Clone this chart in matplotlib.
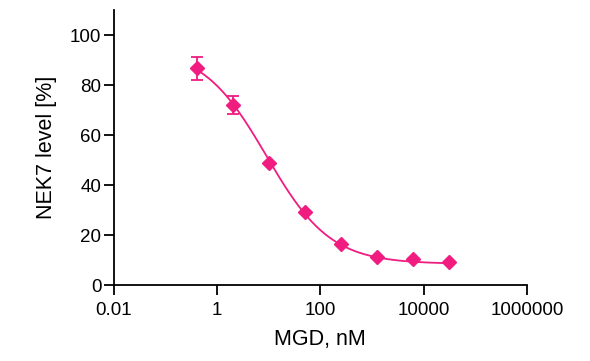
import numpy as np
import matplotlib
matplotlib.use("Agg")
import matplotlib.pyplot as plt
from matplotlib.ticker import FixedLocator, NullLocator, FixedFormatter

plt.rcParams['font.family'] = ['Liberation Sans', 'DejaVu Sans']

# measured points
conc = [0.4, 2, 10, 50, 250, 1250, 6250, 31250]
level = [86.7, 72.0, 48.9, 29.2, 16.3, 11.3, 10.3, 9.1]
err = [4.7, 3.7, 0, 0, 0, 0, 0, 0]

# fitted 4PL curve parameters
top, bottom, ic50, hill = 95.0, 8.5, 9.0, 0.7

xticks = [0.01, 1, 100, 10000, 1000000]
xticklabels = ['0.01', '1', '100', '10000', '1000000']
yticks = [0, 20, 40, 60, 80, 100]

pink = '#f01c80'

fig = plt.figure(figsize=(5.9, 3.61), dpi=100)
ax = fig.add_axes([0.193, 0.21, 0.70, 0.762])

xs = np.logspace(np.log10(conc[0]), np.log10(conc[-1]), 300)
ys = bottom + (top - bottom) / (1 + (xs / ic50) ** hill)
ax.plot(xs, ys, color=pink, lw=1.3)

ax.errorbar(conc, level, yerr=err, fmt='D', color=pink, ms=7,
            capsize=4.5, elinewidth=1.3, capthick=1.3)

ax.set_xscale('log')
ax.set_xlim(0.01, 1000000)
ax.set_ylim(0, 110)
ax.xaxis.set_major_locator(FixedLocator(xticks))
ax.xaxis.set_major_formatter(FixedFormatter(xticklabels))
ax.xaxis.set_minor_locator(NullLocator())
ax.set_yticks(yticks)

for s in ['top', 'right']:
    ax.spines[s].set_visible(False)
for s in ['left', 'bottom']:
    ax.spines[s].set_linewidth(1.3)
ax.tick_params(axis='both', length=7, width=1.3, labelsize=13.5)
ax.tick_params(axis='y', pad=2)
ax.tick_params(axis='x', pad=5)

ax.set_xlabel('MGD, nM', fontsize=15.5, labelpad=7)
ax.set_ylabel('NEK7 level [%]', fontsize=15.5, labelpad=9)

fig.savefig('out.png', dpi=100)
